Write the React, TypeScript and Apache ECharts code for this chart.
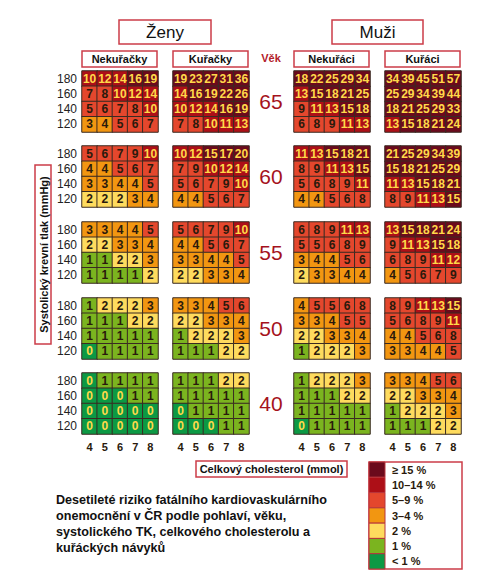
import React, { useEffect, useRef } from "react";
import * as echarts from "echarts";

// Cholesterol (mmol) columns and systolic BP rows
const cholesterol = ["4", "5", "6", "7", "8"];
const systolic = ["120", "140", "160", "180"];
const ages = ["65", "60", "55", "50", "40"];

// 10-year risk (%) per age block; rows listed from 180 down to 120 mmHg
const zenyNekuracky = [
  [[10, 12, 14, 16, 19], [7, 8, 10, 12, 14], [5, 6, 7, 8, 10], [3, 4, 5, 6, 7]],
  [[5, 6, 7, 9, 10], [4, 4, 5, 6, 7], [3, 3, 4, 4, 5], [2, 2, 2, 3, 4]],
  [[3, 3, 4, 4, 5], [2, 2, 3, 3, 4], [1, 1, 2, 2, 3], [1, 1, 1, 1, 2]],
  [[1, 2, 2, 2, 3], [1, 1, 1, 2, 2], [1, 1, 1, 1, 1], [0, 1, 1, 1, 1]],
  [[0, 1, 1, 1, 1], [0, 0, 0, 1, 1], [0, 0, 0, 0, 0], [0, 0, 0, 0, 0]],
];
const zenyKuracky = [
  [[19, 23, 27, 31, 36], [14, 16, 19, 22, 26], [10, 12, 14, 16, 19], [7, 8, 10, 11, 13]],
  [[10, 12, 15, 17, 20], [7, 9, 10, 12, 14], [5, 6, 7, 9, 10], [4, 4, 5, 6, 7]],
  [[5, 6, 7, 9, 10], [4, 4, 5, 6, 7], [3, 3, 4, 4, 5], [2, 2, 3, 3, 4]],
  [[3, 3, 4, 5, 6], [2, 2, 3, 3, 4], [1, 2, 2, 2, 3], [1, 1, 1, 2, 2]],
  [[1, 1, 1, 2, 2], [1, 1, 1, 1, 1], [0, 1, 1, 1, 1], [0, 0, 0, 1, 1]],
];
const muziNekuraci = [
  [[18, 22, 25, 29, 34], [13, 15, 18, 21, 25], [9, 11, 13, 15, 18], [6, 8, 9, 11, 13]],
  [[11, 13, 15, 18, 21], [8, 9, 11, 13, 15], [5, 6, 8, 9, 11], [4, 4, 5, 6, 8]],
  [[6, 8, 9, 11, 13], [5, 5, 6, 8, 9], [3, 4, 4, 5, 6], [2, 3, 3, 4, 4]],
  [[4, 5, 5, 6, 8], [3, 3, 4, 5, 5], [2, 2, 3, 3, 4], [1, 2, 2, 2, 3]],
  [[1, 2, 2, 2, 3], [1, 1, 1, 2, 2], [1, 1, 1, 1, 1], [0, 1, 1, 1, 1]],
];
const muziKuraci = [
  [[34, 39, 45, 51, 57], [25, 29, 34, 39, 44], [18, 21, 25, 29, 33], [13, 15, 18, 21, 24]],
  [[21, 25, 29, 34, 39], [15, 18, 21, 25, 29], [11, 13, 15, 18, 21], [8, 9, 11, 13, 15]],
  [[13, 15, 18, 21, 24], [9, 11, 13, 15, 18], [6, 8, 9, 11, 12], [4, 5, 6, 7, 9]],
  [[8, 9, 11, 13, 15], [5, 6, 8, 9, 11], [4, 4, 5, 6, 8], [3, 3, 4, 4, 5]],
  [[3, 3, 4, 5, 6], [2, 2, 3, 3, 4], [1, 2, 2, 2, 3], [1, 1, 1, 2, 2]],
];

const groupTitles = ["Nekuřačky", "Kuřačky", "Nekuřáci", "Kuřáci"];
const groupData = [zenyNekuracky, zenyKuracky, muziNekuraci, muziKuraci];

// Risk bands, highest first
const bandLabels = ["≥ 15 %", "10–14 %", "5–9 %", "3–4 %", "2 %", "1 %", "< 1 %"];
const bandColors = ["#6b0a1c", "#ad0f17", "#e4472d", "#f29611", "#fedb5e", "#7bb41f", "#0c9944"];
const bandMins = [15, 10, 5, 3, 2, 1, -Infinity];

const FONT = "Liberation Sans, Arial, sans-serif";
const FRAME = "#cc3d48";
const DARK_TEXT = "#2a1a0c";
const LIGHT_TEXT = "#ffd94a";

export default function App() {
  const ref = useRef<HTMLDivElement>(null);

  useEffect(() => {
    if (!ref.current) return;
    const chart = echarts.init(ref.current, undefined, { renderer: "svg" });

    const colX = [82, 173, 294, 385];
    const blockTop = [71, 146, 222, 298, 373];
    const gridW = 76;
    const gridH = 61;

    const grids: any[] = [];
    const xAxes: any[] = [];
    const yAxes: any[] = [];
    const series: any[] = [];

    groupData.forEach((blocks, g) => {
      blocks.forEach((rows, a) => {
        const idx = grids.length;
        grids.push({ left: colX[g], top: blockTop[a], width: gridW, height: gridH });
        xAxes.push({
          type: "category",
          gridIndex: idx,
          data: cholesterol,
          axisLine: { show: false },
          axisTick: { show: false },
          splitLine: { show: false },
          axisLabel: {
            show: a === ages.length - 1,
            interval: 0,
            margin: 7,
            fontFamily: FONT,
            fontSize: 11,
            fontWeight: "bold",
            color: DARK_TEXT,
          },
        });
        yAxes.push({
          type: "category",
          gridIndex: idx,
          data: systolic,
          axisLine: { show: false },
          axisTick: { show: false },
          splitLine: { show: false },
          axisLabel: {
            show: g === 0,
            interval: 0,
            margin: 5,
            fontFamily: FONT,
            fontSize: 12,
            color: "#222",
          },
        });
        const data: any[] = [];
        rows.forEach((row, r) => {
          row.forEach((v, c) => {
            data.push({
              value: [c, systolic.length - 1 - r, v],
              label: { color: v >= 10 || v < 1 ? LIGHT_TEXT : DARK_TEXT },
            });
          });
        });
        series.push({
          type: "heatmap",
          xAxisIndex: idx,
          yAxisIndex: idx,
          data,
          itemStyle: { borderColor: "#3a2a22", borderWidth: 1 },
          label: {
            show: true,
            formatter: (p: any) => String(p.value[2]),
            fontFamily: FONT,
            fontSize: 12,
            fontWeight: "bold",
          },
          emphasis: { disabled: true },
        });
      });
    });

    const pieces = bandColors.map((color, i) =>
      i === 0
        ? { gte: bandMins[i], color }
        : i === bandColors.length - 1
        ? { lt: bandMins[i - 1], color }
        : { gte: bandMins[i], lt: bandMins[i - 1], color }
    );

    const boxText = (x: number, y: number, w: number, h: number, text: string, size: number, bold: boolean) => [
      {
        type: "rect",
        shape: { x, y, width: w, height: h },
        style: { fill: "#fff", stroke: FRAME, lineWidth: 1.5 },
      },
      {
        type: "text",
        x: x + w / 2,
        y: y + h / 2,
        style: {
          text,
          fill: "#111",
          font: `${bold ? "bold " : ""}${size}px ${FONT}`,
          textAlign: "center",
          textVerticalAlign: "middle",
        },
      },
    ];

    const graphic: any[] = [
      ...boxText(119, 20, 92, 24, "Ženy", 17, false),
      ...boxText(332, 20, 91, 24, "Muži", 17, false),
      ...groupTitles.flatMap((t, g) => boxText(colX[g], 51, gridW - 1, 16, t, 11, true)),
      {
        type: "text",
        x: 271,
        y: 58,
        style: { text: "Věk", fill: "#b3202a", font: `bold 11px ${FONT}`, textAlign: "center", textVerticalAlign: "middle" },
      },
      ...ages.map((age, a) => ({
        type: "text",
        x: 271,
        y: blockTop[a] + gridH / 2,
        style: { text: age, fill: "#a5121c", font: `21px ${FONT}`, textAlign: "center", textVerticalAlign: "middle" },
      })),
      {
        type: "rect",
        shape: { x: 35, y: 165, width: 16, height: 179 },
        style: { fill: "#fff", stroke: FRAME, lineWidth: 1.5 },
      },
      {
        type: "text",
        x: 43.5,
        y: 254.5,
        rotation: Math.PI / 2,
        style: {
          text: "Systolický krevní tlak (mmHg)",
          fill: "#111",
          font: `bold 11px ${FONT}`,
          textAlign: "center",
          textVerticalAlign: "middle",
        },
      },
      ...boxText(196, 461, 151, 16, "Celkový cholesterol (mmol)", 11, true),
      {
        type: "text",
        x: 56,
        y: 492,
        style: {
          text:
            "Desetileté riziko fatálního kardiovaskulárního\nonemocnění v ČR podle pohlaví, věku,\nsystolického TK, celkového cholesterolu a\nkuřáckých návyků",
          fill: "#111",
          font: `bold 12.6px ${FONT}`,
          lineHeight: 16,
          textAlign: "left",
          textVerticalAlign: "top",
        },
      },
      {
        type: "rect",
        shape: { x: 369, y: 462, width: 93, height: 107 },
        style: { fill: "#fff", stroke: FRAME, lineWidth: 1.5 },
      },
      ...bandColors.map((color, i) => ({
        type: "rect",
        shape: { x: 369, y: 462 + (i * 107) / 7, width: 16, height: 107 / 7 },
        style: { fill: color, stroke: "#b8343c", lineWidth: 1 },
      })),
      ...bandLabels.map((label, i) => ({
        type: "text",
        x: 392,
        y: 462 + (i + 0.5) * (107 / 7),
        style: { text: label, fill: DARK_TEXT, font: `bold 11px ${FONT}`, textAlign: "left", textVerticalAlign: "middle" },
      })),
    ];

    chart.setOption({
      animation: false,
      backgroundColor: "#fff",
      grid: grids,
      xAxis: xAxes,
      yAxis: yAxes,
      visualMap: {
        type: "piecewise",
        show: false,
        dimension: 2,
        seriesIndex: series.map((_, i) => i),
        pieces,
      },
      series,
      graphic,
    });

    return () => chart.dispose();
  }, []);

  return <div ref={ref} style={{ position: "absolute", left: 0, top: 0, width: 482, height: 587 }} />;
}
